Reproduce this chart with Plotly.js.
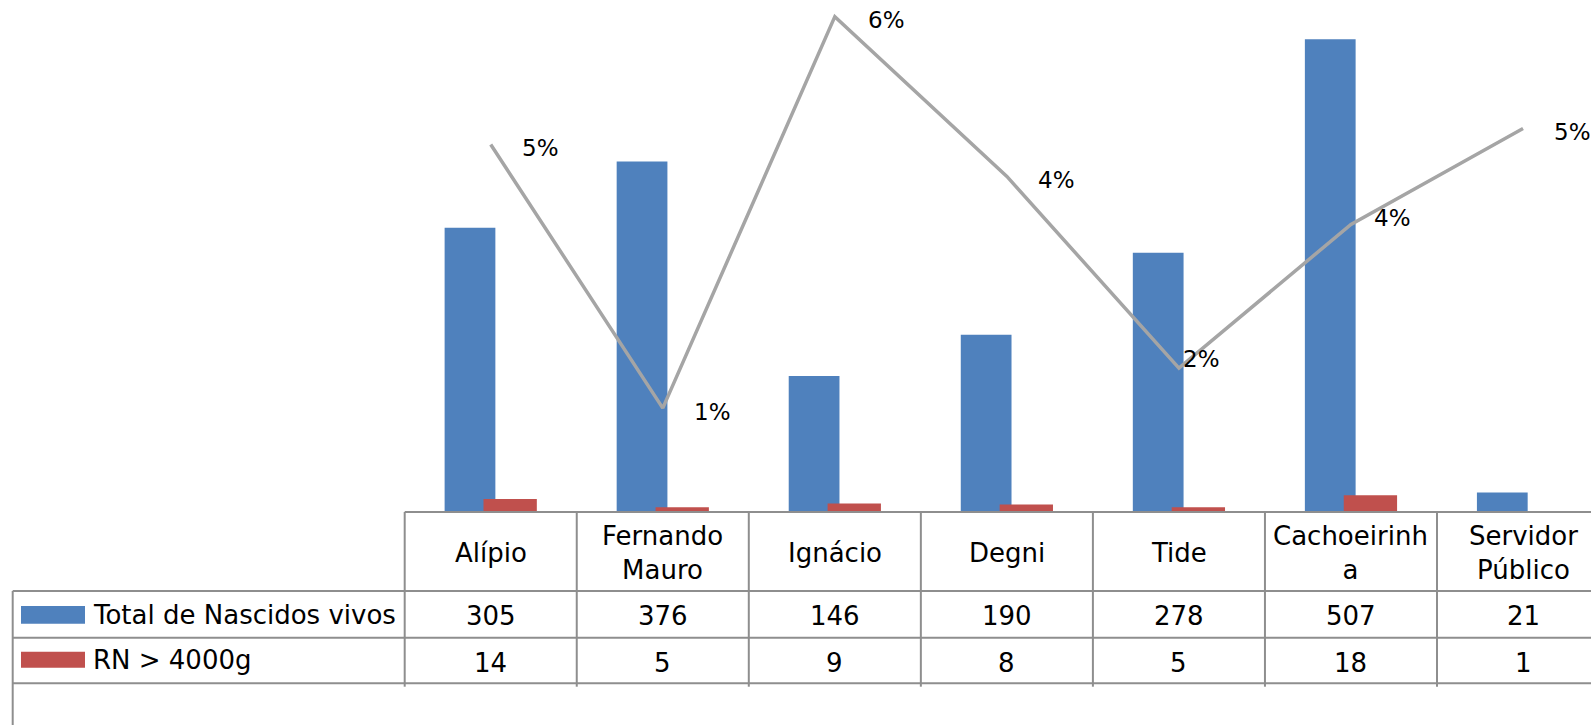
<!DOCTYPE html>
<html>
<head>
<meta charset="utf-8">
<script src="https://cdn.plot.ly/plotly-3.0.1.min.js"></script>
<style>
  html, body { margin: 0; padding: 0; overflow: hidden; background: #fff; }
  #chart { width: 1620px; height: 725px; }
</style>
</head>
<body>
<div id="chart"></div>
<script>
// ---- data ----
const categories = ["Alípio", "Fernando Mauro", "Ignácio", "Degni", "Tide", "Cachoeirinha", "Servidor Público"];
const tickLabels = ["Alípio", "Fernando<br>Mauro", "Ignácio", "Degni", "Tide", "Cachoeirinh<br>a", "Servidor<br>Público"];
const seriesNames = ["Total de Nascidos vivos", "RN > 4000g"];
const totalNascidos = [305, 376, 146, 190, 278, 507, 21];
const rnAcima4000 = [14, 5, 9, 8, 5, 18, 1];
const percentual = [4.6, 1.3, 6.2, 4.2, 1.8, 3.6, 4.8]; // percent

// ---- layout geometry (pixels) ----
const W = 1620, H = 725;
const plotLeft = 404.7, colW = 172.05;
const plotRight = plotLeft + colW * categories.length;
const baseY = 512;
const px = x => x / W;
const py = y => 1 - y / H;

const blue = "#4F81BD", red = "#C0504D", grey = "#A5A5A5", lineCol = "#8E8E8E";
const fontFam = "DejaVu Sans";
const tableFont = { family: fontFam, size: 26, color: "#000" };

const idx = categories.map((c, i) => i);

const traces = [
  {
    type: "bar", x: idx, y: totalNascidos, name: seriesNames[0],
    marker: { color: blue }, offset: -0.268, width: 0.295,
    hoverinfo: "skip"
  },
  {
    type: "bar", x: idx, y: rnAcima4000, name: seriesNames[1],
    marker: { color: red }, offset: -0.042, width: 0.31,
    hoverinfo: "skip"
  },
  {
    type: "scatter", mode: "lines", x: idx, y: percentual.map(v => v / 100),
    yaxis: "y2", line: { color: grey, width: 3.5 }, hoverinfo: "skip"
  }
];

// ---- table shapes ----
const shapes = [];
const L = (x0, y0, x1, y1) => shapes.push({
  type: "line", xref: "paper", yref: "paper",
  x0: px(x0), y0: py(y0), x1: px(x1), y1: py(y1),
  line: { color: lineCol, width: 2 }
});
L(plotLeft, baseY, W, baseY);
L(12.7, 591, W, 591);
L(12.7, 637.7, W, 637.7);
L(12.7, 683.3, W, 683.3);
L(12.7, 591, 12.7, 725);
for (let k = 0; k <= categories.length; k++) {
  const x = plotLeft + k * colW;
  L(x, baseY, x, 686.7);
}
// legend keys
shapes.push({ type: "rect", xref: "paper", yref: "paper", x0: px(21), x1: px(85), y0: py(623.7), y1: py(606), fillcolor: blue, line: { width: 0 } });
shapes.push({ type: "rect", xref: "paper", yref: "paper", x0: px(21), x1: px(85), y0: py(667.7), y1: py(651.7), fillcolor: red, line: { width: 0 } });

// ---- annotations ----
const annotations = [];
tickLabels.forEach((t, i) => {
  annotations.push({ xref: "x", yref: "paper", x: i, y: py(553), text: t, showarrow: false,
    xanchor: "center", yanchor: "middle", font: tableFont });
  annotations.push({ xref: "x", yref: "paper", x: i, y: py(616), text: String(totalNascidos[i]), showarrow: false,
    xanchor: "center", yanchor: "middle", font: tableFont });
  annotations.push({ xref: "x", yref: "paper", x: i, y: py(662.5), text: String(rnAcima4000[i]), showarrow: false,
    xanchor: "center", yanchor: "middle", font: tableFont });
});
annotations.push({ xref: "paper", yref: "paper", x: px(91), y: py(615), text: seriesNames[0], showarrow: false,
  xanchor: "left", yanchor: "middle", font: tableFont });
annotations.push({ xref: "paper", yref: "paper", x: px(91), y: py(660), text: seriesNames[1], showarrow: false,
  xanchor: "left", yanchor: "middle", font: tableFont });

// percent labels
const labXShift = [29, 29, 31, 29, 2, 21, 29];
const labYShift = [-4, -4, -3, -4, 9, 6, -4];
percentual.forEach((v, i) => {
  annotations.push({ xref: "x", yref: "y2", x: i, y: v / 100, text: Math.round(v) + "%", showarrow: false,
    xanchor: "left", yanchor: "middle", xshift: labXShift[i], yshift: labYShift[i],
    font: { family: fontFam, size: 23, color: "#000" } });
});

const primaryMax = baseY / 0.9323;
const secondaryMax = baseY / 79.9 / 100;

const layout = {
  width: W, height: H,
  margin: { l: 0, r: 0, t: 0, b: 0, pad: 0 },
  paper_bgcolor: "#fff", plot_bgcolor: "#fff",
  showlegend: false,
  barmode: "overlay",
  xaxis: {
    domain: [px(plotLeft), px(plotRight)], range: [-0.5, categories.length - 0.5],
    showticklabels: false, showgrid: false, zeroline: false, showline: false, ticks: ""
  },
  yaxis: {
    domain: [py(baseY), 1], range: [0, primaryMax],
    showticklabels: false, showgrid: false, zeroline: false, showline: false, ticks: ""
  },
  yaxis2: {
    overlaying: "y", side: "right", range: [0, secondaryMax],
    showticklabels: false, showgrid: false, zeroline: false, showline: false, ticks: ""
  },
  shapes: shapes,
  annotations: annotations
};

Plotly.newPlot("chart", traces, layout, { staticPlot: true, displayModeBar: false });
</script>
</body>
</html>
